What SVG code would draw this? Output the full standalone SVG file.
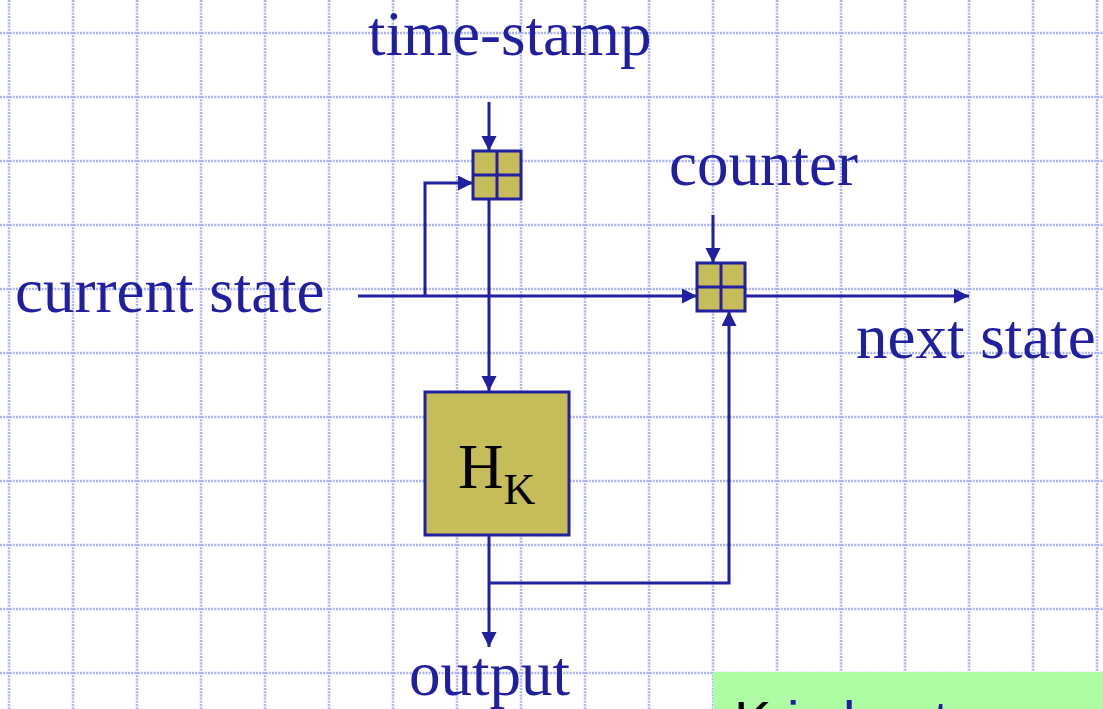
<svg xmlns="http://www.w3.org/2000/svg" width="1103" height="709" viewBox="0 0 1103 709">
<style>
.grid line{stroke:#a9b1fb;stroke-width:2.5;stroke-dasharray:2 1.2}
.conn path{fill:none;stroke:#2020a0;stroke-width:3}
.blk{fill:#c7bc5a;stroke:#2020a0;stroke-width:3}
.div{stroke:#2020a0;stroke-width:3}
.lbl{font-family:"Liberation Serif","Times New Roman",serif;font-size:63px;fill:#1f1f9f}
</style>
<defs>
<marker id="ah" markerUnits="userSpaceOnUse" markerWidth="16" markerHeight="16" refX="15" refY="7.5" orient="auto">
<path d="M0,0 L15,7.5 L0,15 z" fill="#2020a0"/>
</marker>
</defs>
<rect width="1103" height="709" fill="#ffffff"/>
<g class="grid">
<line x1="9" y1="0" x2="9" y2="709"/><line x1="73" y1="0" x2="73" y2="709"/><line x1="137" y1="0" x2="137" y2="709"/><line x1="201" y1="0" x2="201" y2="709"/><line x1="265" y1="0" x2="265" y2="709"/><line x1="329" y1="0" x2="329" y2="709"/><line x1="393" y1="0" x2="393" y2="709"/><line x1="457" y1="0" x2="457" y2="709"/><line x1="521" y1="0" x2="521" y2="709"/><line x1="585" y1="0" x2="585" y2="709"/><line x1="649" y1="0" x2="649" y2="709"/><line x1="713" y1="0" x2="713" y2="709"/><line x1="777" y1="0" x2="777" y2="709"/><line x1="841" y1="0" x2="841" y2="709"/><line x1="905" y1="0" x2="905" y2="709"/><line x1="969" y1="0" x2="969" y2="709"/><line x1="1033" y1="0" x2="1033" y2="709"/><line x1="1097" y1="0" x2="1097" y2="709"/>
<line x1="0" y1="33" x2="1103" y2="33"/><line x1="0" y1="97" x2="1103" y2="97"/><line x1="0" y1="161" x2="1103" y2="161"/><line x1="0" y1="225" x2="1103" y2="225"/><line x1="0" y1="289" x2="1103" y2="289"/><line x1="0" y1="353" x2="1103" y2="353"/><line x1="0" y1="417" x2="1103" y2="417"/><line x1="0" y1="481" x2="1103" y2="481"/><line x1="0" y1="545" x2="1103" y2="545"/><line x1="0" y1="609" x2="1103" y2="609"/><line x1="0" y1="673" x2="1103" y2="673"/>
</g>
<g id="labels">
<text class="lbl" x="368" y="55">time-stamp</text>
<text class="lbl" x="669" y="185">counter</text>
<text class="lbl" x="15" y="312">current state</text>
<text class="lbl" x="856" y="358">next state</text>
<text class="lbl" x="409" y="695">output</text>
</g>
<g class="conn" id="connectors">
<path d="M489 102 L489 151" marker-end="url(#ah)"/>
<path d="M358 296 L697 296" marker-end="url(#ah)"/>
<path d="M425 296 L425 183 L473 183" marker-end="url(#ah)"/>
<path d="M489 199 L489 391" marker-end="url(#ah)"/>
<path d="M713 215 L713 263" marker-end="url(#ah)"/>
<path d="M745 296 L969 296" marker-end="url(#ah)"/>
<path d="M489 535 L489 647" marker-end="url(#ah)"/>
<path d="M489 583 L729 583 L729 311" marker-end="url(#ah)"/>
</g>
<g id="xor1">
<rect class="blk" x="473" y="151" width="48" height="48"/>
<line class="div" x1="497" y1="151" x2="497" y2="199"/>
<line class="div" x1="473" y1="175" x2="521" y2="175"/>
</g>
<g id="xor2">
<rect class="blk" x="697" y="263" width="48" height="48"/>
<line class="div" x1="721" y1="263" x2="721" y2="311"/>
<line class="div" x1="697" y1="287" x2="745" y2="287"/>
</g>
<g id="hk">
<rect class="blk" x="425" y="392" width="144" height="143"/>
<text x="458" y="488" font-family="Liberation Serif, Times New Roman, serif" font-size="63" fill="#000000">H<tspan font-size="44" dy="16">K</tspan></text>
</g>
<g id="note">
<rect x="713" y="672" width="390" height="37" fill="#adfba2"/>
<text x="734" y="740" font-family="Liberation Sans, Arial, sans-serif" font-size="56" fill="#1f1f9f"><tspan fill="#000000">K</tspan> is kept secret</text>
</g>
</svg>
